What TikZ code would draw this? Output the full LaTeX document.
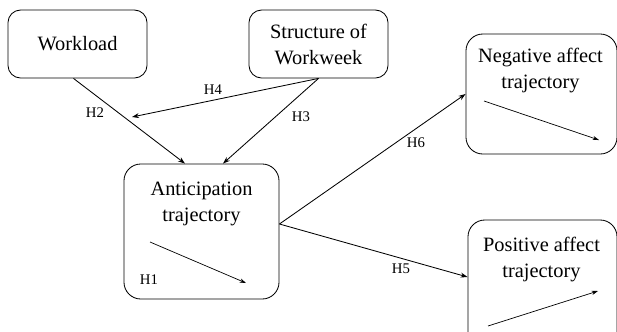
\documentclass[tikz,border=0pt]{standalone}
\usepackage{fontspec}
\setmainfont{Liberation Serif}
\usetikzlibrary{arrows.meta,calc}

\tikzset{
  box/.style={draw, line width=0.6pt, rounded corners=9pt, align=center,
    inner sep=0pt, font=\fontsize{14.5}{18.5}\selectfont},
  tallbox/.style={box, rounded corners=12pt},
  boxtext/.style={align=center, inner sep=0pt, font=\fontsize{14.5}{18.5}\selectfont},
  hyp/.style={inner sep=0pt, font=\fontsize{10.5}{12}\selectfont},
  link/.style={line width=0.6pt, -{Stealth[length=5pt,width=3.5pt]}},
  trend/.style={line width=0.5pt, -{Stealth[length=4.5pt,width=3pt]}}
}

\begin{document}
\begin{tikzpicture}[x=0.025cm, y=-0.025cm]
    \useasboundingbox (0,0) rectangle (617,331);

    % Predictors
    \node[box, minimum width=3.475cm, minimum height=1.7cm] (work) at (77.5,44) {Workload};
    \node[box, minimum width=3.475cm, minimum height=1.7cm] (struct) at (318.5,44) {Structure of\\Workweek};

    % Anticipation
    \node[tallbox, minimum width=3.875cm, minimum height=3.375cm] (ant) at (201.5,231.5) {};
    \node[boxtext] (anttxt) at (201.5,204) {Anticipation\\trajectory};
    \coordinate (a1) at (150,242);
    \coordinate (a2) at (246,283);
    \draw[trend] (a1) -- (a2);
    \node[hyp] (h1) at (149,280) {H1};

    % Outcomes
    \node[tallbox, minimum width=3.775cm, minimum height=3cm] (neg) at (541.5,94) {};
    \node[boxtext] (negtxt) at (540.5,71) {Negative affect\\trajectory};
    \coordinate (n1) at (484,101);
    \coordinate (n2) at (599,140);
    \draw[trend] (n1) -- (n2);

    \node[tallbox, minimum width=3.725cm, minimum height=3.25cm] (pos) at (542.5,285) {};
    \node[boxtext] (postxt) at (541.5,260) {Positive affect\\trajectory};
    \coordinate (p1) at (488,326);
    \coordinate (p2) at (598,291);
    \draw[trend] (p1) -- (p2);

    % Paths
    \coordinate (h4end) at (132,117);
    \draw[link] ($(work.south)+(-4,0)$) -- ($(ant.north)+(-16.5,0)$);
    \draw[link] (struct.south) -- ($(ant.north)+(21.5,0)$);
    \draw[link] (struct.south) -- (h4end);
    \draw[link] ($(ant.east)+(0,-7.5)$) -- (neg.west);
    \draw[link] ($(ant.east)+(0,-7.5)$) -- ($(pos.west)+(0,-8)$);

    % Hypothesis labels
    \node[hyp] (h2) at (95,113) {H2};
    \node[hyp] (h3) at (301,117) {H3};
    \node[hyp] (h4) at (213,90) {H4};
    \node[hyp] (h5) at (401,269) {H5};
    \node[hyp] (h6) at (416,143) {H6};
\end{tikzpicture}
\end{document}
